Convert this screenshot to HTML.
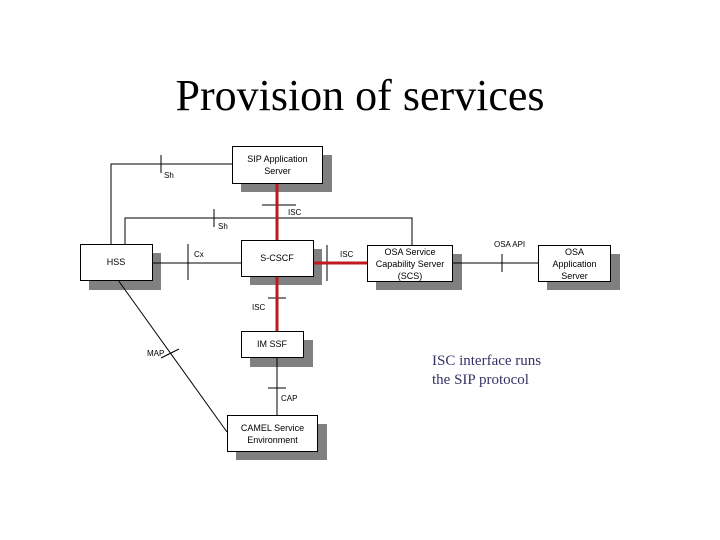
<!DOCTYPE html>
<html><head><style>
body{margin:0;background:#fff;width:720px;height:540px;overflow:hidden;position:relative;font-family:"Liberation Sans",sans-serif;}
.t{position:absolute;font-size:9px;color:#000;}
</style></head><body>
<svg width="720" height="540" style="position:absolute;left:0;top:0" xmlns="http://www.w3.org/2000/svg">
<g fill="#808080">
<rect x="241" y="155" width="91" height="37"/>
<rect x="89" y="253" width="72" height="37"/>
<rect x="250" y="249" width="72" height="36"/>
<rect x="376" y="254" width="86" height="36"/>
<rect x="547" y="254" width="73" height="36"/>
<rect x="250" y="340" width="63" height="27"/>
<rect x="236" y="424" width="91" height="36"/>
</g>
<g stroke="#000" stroke-width="1" fill="none">
<polyline points="111,244 111,164 232,164"/>
<line x1="161" y1="155" x2="161" y2="173"/>
<polyline points="125,244 125,218 412,218 412,245"/>
<line x1="214" y1="209" x2="214" y2="227"/>
<line x1="262" y1="205" x2="296" y2="205"/>
<line x1="152" y1="263" x2="241" y2="263"/>
<line x1="188" y1="244" x2="188" y2="280"/>
<line x1="327" y1="245" x2="327" y2="281"/>
<line x1="452" y1="263" x2="538" y2="263"/>
<line x1="502" y1="254" x2="502" y2="272"/>
<line x1="268" y1="298" x2="286" y2="298"/>
<line x1="277" y1="357" x2="277" y2="415"/>
<line x1="268" y1="388" x2="286" y2="388"/>
<line x1="118" y1="280" x2="227" y2="432"/>
<line x1="161" y1="358" x2="179" y2="349"/>
</g>
<g stroke="#c0181c" stroke-width="3">
<line x1="277" y1="183" x2="277" y2="240"/>
<line x1="313" y1="263" x2="367" y2="263"/>
<line x1="277" y1="276" x2="277" y2="331"/>
</g>
<g fill="#fff" stroke="#000" stroke-width="1">
<rect x="232.5" y="146.5" width="90" height="37"/>
<rect x="80.5" y="244.5" width="72" height="36"/>
<rect x="241.5" y="240.5" width="72" height="36"/>
<rect x="367.5" y="245.5" width="85" height="36"/>
<rect x="538.5" y="245.5" width="72" height="36"/>
<rect x="241.5" y="331.5" width="62" height="26"/>
<rect x="227.5" y="415.5" width="90" height="36"/>
</g>
</svg>
<div style="position:absolute;left:0;width:720px;top:70px;text-align:center;font-family:'Liberation Serif',serif;font-size:44px;color:#000;">Provision of services</div>
<div class="t" style="left:232px;width:91px;top:153px;text-align:center;line-height:12px;">SIP Application<br>Server</div>
<div class="t" style="left:80px;width:72px;top:257px;text-align:center;">HSS</div>
<div class="t" style="left:241px;width:72px;top:253px;text-align:center;">S-CSCF</div>
<div class="t" style="left:367px;width:86px;top:246px;text-align:center;line-height:12px;">OSA Service<br>Capability Server<br>(SCS)</div>
<div class="t" style="left:538px;width:73px;top:246px;text-align:center;line-height:12px;">OSA<br>Application<br>Server</div>
<div class="t" style="left:241px;width:62px;top:339px;text-align:center;">IM SSF</div>
<div class="t" style="left:227px;width:91px;top:422px;text-align:center;line-height:12px;">CAMEL Service<br>Environment</div>
<div class="t" style="left:164px;top:171px;font-size:8px;">Sh</div>
<div class="t" style="left:218px;top:222px;font-size:8px;">Sh</div>
<div class="t" style="left:288px;top:208px;font-size:8px;">ISC</div>
<div class="t" style="left:194px;top:250px;font-size:8px;">Cx</div>
<div class="t" style="left:340px;top:250px;font-size:8px;">ISC</div>
<div class="t" style="left:494px;top:240px;font-size:8px;">OSA API</div>
<div class="t" style="left:252px;top:303px;font-size:8px;">ISC</div>
<div class="t" style="left:281px;top:394px;font-size:8px;">CAP</div>
<div class="t" style="left:147px;top:349px;font-size:8px;">MAP</div>
<div style="position:absolute;left:432px;top:352px;font-family:'Liberation Serif',serif;font-size:15px;line-height:19px;color:#333366;">ISC interface runs<br>the SIP protocol</div>
</body></html>
